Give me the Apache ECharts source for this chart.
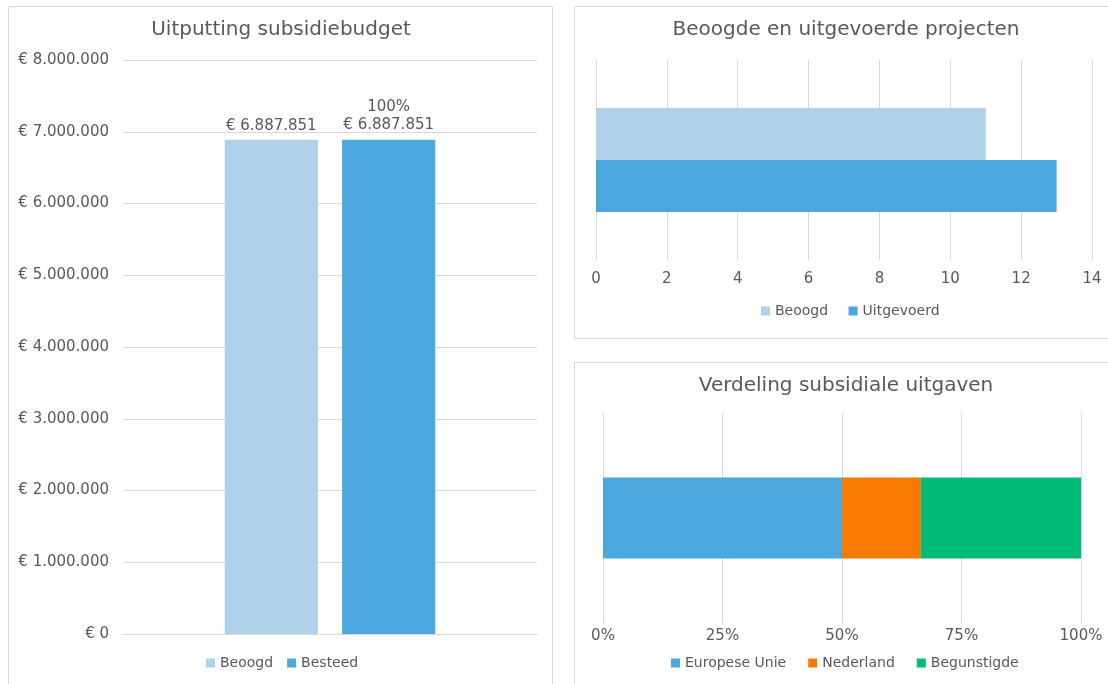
<!DOCTYPE html>
<html>
<head>
<meta charset="utf-8">
<script src="https://cdn.jsdelivr.net/npm/echarts@6/dist/echarts.min.js"></script>
<style>
html,body{margin:0;padding:0;background:#fff;}
#chart{width:1108px;height:684px;}
</style>
</head>
<body>
<div id="chart"></div>
<script>
// ---- data ----
const budgetCategories = ['Subsidiebudget'];
const budgetBeoogd = [6887851];
const budgetBesteed = [6887851];
const budgetTickMin = 0, budgetTickMax = 8000000, budgetTickStep = 1000000;

const projectCategories = ['Projecten'];
const projectBeoogd = [11];
const projectUitgevoerd = [13];
const projectTickMin = 0, projectTickMax = 14, projectTickStep = 2;

const verdelingCategories = ['Uitgaven'];
const verdelingEU = [50];
const verdelingNL = [16.5];
const verdelingBegunstigde = [33.5];
const verdelingTickMin = 0, verdelingTickMax = 100, verdelingTickStep = 25;

const titles = ['Uitputting subsidiebudget', 'Beoogde en uitgevoerde projecten', 'Verdeling subsidiale uitgaven'];

// ---- styling ----
const FONT = 'DejaVu Sans';
const TXT = '#595959';
const GRID = '#d9d9d9';
const C_LIGHT = '#afd2ea';
const C_BLUE = '#4ba8df';
const C_ORANGE = '#f77b00';
const C_GREEN = '#00bb77';

function euro(v) {
  return '€ ' + String(Math.round(v)).replace(/\B(?=(\d{3})+(?!\d))/g, '.');
}

const chart = echarts.init(document.getElementById('chart'), null, {renderer: 'canvas'});

const titleStyle = {color: TXT, fontSize: 20, fontWeight: 'normal', fontFamily: FONT};
const legendText = {color: TXT, fontSize: 14, fontFamily: FONT};
const axisLbl = {color: TXT, fontSize: 15, fontFamily: FONT};

chart.setOption({
  animation: false,
  graphic: [
    {type: 'rect', shape: {x: 8.5, y: 6.5, width: 544, height: 700}, style: {fill: 'none', stroke: GRID, lineWidth: 1}, silent: true},
    {type: 'rect', shape: {x: 574.5, y: 6.5, width: 600, height: 332}, style: {fill: 'none', stroke: GRID, lineWidth: 1}, silent: true},
    {type: 'rect', shape: {x: 574.5, y: 362.5, width: 600, height: 400}, style: {fill: 'none', stroke: GRID, lineWidth: 1}, silent: true}
  ],
  title: [
    {text: titles[0], left: 281, top: 20, textAlign: 'center', padding: 0, textStyle: titleStyle},
    {text: titles[1], left: 846, top: 20, textAlign: 'center', padding: 0, textStyle: titleStyle},
    {text: titles[2], left: 846, top: 376, textAlign: 'center', padding: 0, textStyle: titleStyle}
  ],
  legend: [
    {data: ['Beoogd', 'Besteed'], left: 206, top: 656, icon: 'rect', itemWidth: 9, itemHeight: 9, itemGap: 14, textStyle: legendText, padding: 0},
    {data: ['Beoogd ', 'Uitgevoerd'], left: 761, top: 304, icon: 'rect', itemWidth: 9, itemHeight: 9, itemGap: 16, textStyle: legendText, padding: 0},
    {data: ['Europese Unie', 'Nederland', 'Begunstigde'], left: 671, top: 656, icon: 'rect', itemWidth: 9, itemHeight: 9, itemGap: 22, textStyle: legendText, padding: 0}
  ],
  grid: [
    {left: 123, right: 571, top: 60, bottom: 50},
    {left: 596, right: 16, top: 60, bottom: 424},
    {left: 603, right: 27, top: 413, bottom: 61}
  ],
  xAxis: [
    {gridIndex: 0, type: 'category', data: budgetCategories, axisLine: {show: true, lineStyle: {color: GRID}}, axisTick: {show: false}, axisLabel: {show: false}},
    {gridIndex: 1, type: 'value', min: projectTickMin, max: projectTickMax, interval: projectTickStep,
      axisLine: {show: false}, axisTick: {show: false}, splitLine: {lineStyle: {color: GRID}},
      axisLabel: Object.assign({margin: 12}, axisLbl)},
    {gridIndex: 2, type: 'value', min: verdelingTickMin, max: verdelingTickMax, interval: verdelingTickStep,
      axisLine: {show: false}, axisTick: {show: false}, splitLine: {lineStyle: {color: GRID}},
      axisLabel: Object.assign({margin: 6, formatter: '{value}%'}, axisLbl)}
  ],
  yAxis: [
    {gridIndex: 0, type: 'value', min: budgetTickMin, max: budgetTickMax, interval: budgetTickStep,
      axisLine: {show: false}, axisTick: {show: false}, splitLine: {lineStyle: {color: GRID}},
      axisLabel: Object.assign({margin: 14, formatter: euro}, axisLbl)},
    {gridIndex: 1, type: 'category', data: projectCategories, inverse: true, axisLine: {show: false}, axisTick: {show: false}, axisLabel: {show: false}},
    {gridIndex: 2, type: 'category', data: verdelingCategories, axisLine: {show: false}, axisTick: {show: false}, axisLabel: {show: false}}
  ],
  series: [
    {name: 'Beoogd', type: 'bar', xAxisIndex: 0, yAxisIndex: 0, data: budgetBeoogd, barWidth: '22.5%', barGap: '26%',
      itemStyle: {color: C_LIGHT},
      label: {show: true, position: 'top', distance: 6, color: TXT, fontSize: 15, fontFamily: FONT, formatter: p => euro(p.value)}},
    {name: 'Besteed', type: 'bar', xAxisIndex: 0, yAxisIndex: 0, data: budgetBesteed, barWidth: '22.5%', barGap: '26%',
      itemStyle: {color: C_BLUE},
      label: {show: true, position: 'top', distance: 6, color: TXT, fontSize: 15, fontFamily: FONT, lineHeight: 18,
        formatter: p => Math.round(p.value / budgetBeoogd[p.dataIndex] * 100) + '%\n' + euro(p.value)}},
    {name: 'Beoogd ', type: 'bar', xAxisIndex: 1, yAxisIndex: 1, data: projectBeoogd, barWidth: '26%', barGap: '0%', itemStyle: {color: C_LIGHT}},
    {name: 'Uitgevoerd', type: 'bar', xAxisIndex: 1, yAxisIndex: 1, data: projectUitgevoerd, barWidth: '26%', barGap: '0%', itemStyle: {color: C_BLUE}},
    {name: 'Europese Unie', type: 'bar', stack: 'v', xAxisIndex: 2, yAxisIndex: 2, data: verdelingEU, barWidth: '38.5%', itemStyle: {color: C_BLUE}},
    {name: 'Nederland', type: 'bar', stack: 'v', xAxisIndex: 2, yAxisIndex: 2, data: verdelingNL, barWidth: '38.5%', itemStyle: {color: C_ORANGE}},
    {name: 'Begunstigde', type: 'bar', stack: 'v', xAxisIndex: 2, yAxisIndex: 2, data: verdelingBegunstigde, barWidth: '38.5%', itemStyle: {color: C_GREEN}}
  ]
});
</script>
</body>
</html>
